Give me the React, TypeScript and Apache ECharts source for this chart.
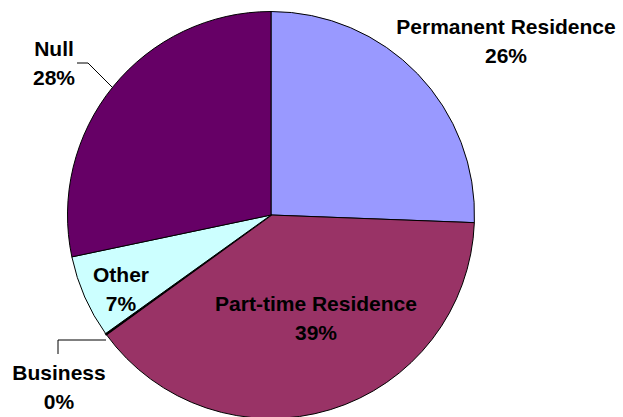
import React, { useEffect, useRef } from 'react';
import * as echarts from 'echarts';

const categories = ['Permanent Residence', 'Part-time Residence', 'Business', 'Other', 'Null'];
const values = [25.6, 39.4, 0.1, 6.6, 28.3];
const colors = ['#9999FF', '#993366', '#FFFFCC', '#CCFFFF', '#660066'];
const labelPlacement = ['outside', 'inside', 'outside', 'inside', 'outside'];
const showLeader = [false, false, true, false, true];

export default function App() {
  const ref = useRef<HTMLDivElement>(null);

  useEffect(() => {
    const chart = echarts.init(ref.current!, null, { renderer: 'svg' });
    const total = values.reduce((a, b) => a + b, 0);

    const labelLayouts: Record<number, any> = {
      0: { x: 506, y: 41 },
      1: { x: 316, y: 318 },
      2: { x: 59, y: 387, line: [[106, 340], [58, 340], [58, 354]] },
      3: { x: 121, y: 289 },
      4: { x: 54, y: 63, line: [[112, 87], [88, 63], [77, 63]] },
    };

    chart.setOption({
      animation: false,
      backgroundColor: '#ffffff',
      series: [
        {
          type: 'pie',
          center: [271, 215],
          radius: [0, 203.5],
          startAngle: 90,
          clockwise: true,
          avoidLabelOverlap: false,
          percentPrecision: 0,
          emphasis: { disabled: true },
          itemStyle: { borderColor: '#000000', borderWidth: 1 },
          label: {
            formatter: (p: any) => `${p.name}\n${Math.round((p.value / total) * 100)}%`,
            fontFamily: '"Liberation Sans", Arial, sans-serif',
            fontWeight: 'bold',
            fontSize: 21,
            lineHeight: 29,
            color: '#000000',
            align: 'center',
          },
          labelLine: { lineStyle: { color: '#000000', width: 1 } },
          labelLayout: (params: any) => {
            const l = labelLayouts[params.dataIndex];
            const out: any = { x: l.x, y: l.y, align: 'center', verticalAlign: 'middle', hideOverlap: false };
            if (l.line) out.labelLinePoints = l.line;
            return out;
          },
          data: categories.map((name, i) => ({
            name,
            value: values[i],
            itemStyle: { color: colors[i], borderWidth: i === 2 ? 1.8 : 1 },
            label: { position: labelPlacement[i] },
            labelLine: { show: showLeader[i], length: 30, length2: 12 },
          })),
        },
      ],
    });
    return () => chart.dispose();
  }, []);

  return (
    <div
      ref={ref}
      style={{ position: 'absolute', left: 0, top: 0, width: 623, height: 417, background: '#ffffff' }}
    />
  );
}
